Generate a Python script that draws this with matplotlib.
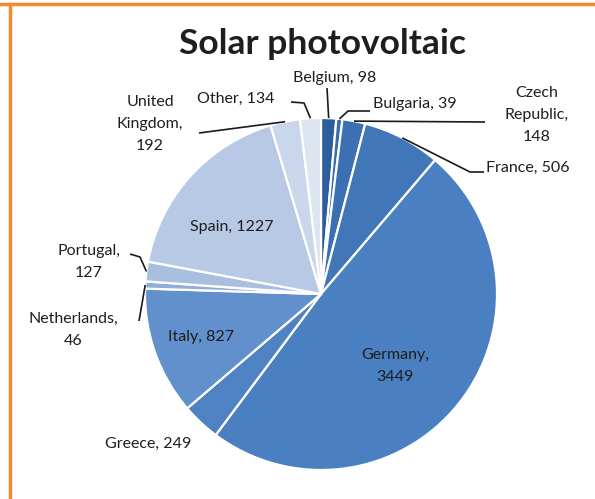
import numpy as np
import matplotlib
matplotlib.use("Agg")
import matplotlib.pyplot as plt
from matplotlib.lines import Line2D

# installed capacity by country (MW)
countries = ["Belgium", "Bulgaria", "Czech\nRepublic", "France", "Germany", "Greece",
             "Italy", "Netherlands", "Portugal", "Spain", "United\nKingdom", "Other"]
values = [98, 39, 148, 506, 3449, 249, 827, 46, 127, 1227, 192, 134]
colors = ["#2c5e9c", "#386cad", "#3c70b3", "#4176b9", "#4a7fc2", "#4e82c3",
          "#6290cc", "#92aed8", "#a9bfe0", "#b8c9e5", "#c9d6eb", "#dde5f1"]

W, H = 595, 499
CX, CY, R = 321, 294, 176


def px(x, y):
    # pixel position -> data coords (pie radius = 1)
    return (x - CX) / R, (CY - y) / R


fig = plt.figure(figsize=(W / 100, H / 100), dpi=100)
ax = fig.add_axes([0, 0, 1, 1])

wedges, _ = ax.pie(values, colors=colors, startangle=90, counterclock=False, radius=1,
                   wedgeprops=dict(edgecolor="white", linewidth=1.6))

ax.set_xlim(-CX / R, (W - CX) / R)
ax.set_ylim((CY - H) / R, CY / R)
ax.set_aspect("equal")
ax.axis("off")

font = "Lato"
tc = "#1e1e1e"
ax.text(*px(322, 44), "Solar photovoltaic", ha="center", va="center",
        fontsize=25.5, fontweight="bold", family=font, color=tc)

total = sum(values)
cum = np.cumsum([0] + values)


def edge(i):
    ang = np.deg2rad(90 - (cum[i] + values[i] / 2) / total * 360)
    return np.cos(ang), np.sin(ang)


# label text positions (pixels) and leader elbows
labels = {
    0: dict(pos=(335, 78), ha="center", path=[(327, 88)]),
    1: dict(pos=(373, 104), ha="left", path=[(348, 111), (370, 111)]),
    2: dict(pos=(537, 115), ha="center", path=[(485, 122)]),
    3: dict(pos=(486, 168), ha="left", path=[(470, 172), (484, 172)]),
    4: dict(pos=(395, 366), ha="center", path=None),
    5: dict(pos=(148, 444), ha="center", path=None),
    6: dict(pos=(201, 337), ha="center", path=None),
    7: dict(pos=(73, 330), ha="center", path=[(139, 321)]),
    8: dict(pos=(89, 262), ha="center", path=[(140, 257), (130, 254)]),
    9: dict(pos=(232, 227), ha="center", path=None),
    10: dict(pos=(150, 124), ha="center", path=[(199, 133)]),
    11: dict(pos=(236, 99), ha="center", path=[(304, 103), (291, 102)]),
}

for i, spec in labels.items():
    name = countries[i]
    txt = f"{name}, {values[i]}"
    if i in (4, 7, 8) or "\n" in name:
        txt = f"{name},\n{values[i]}"
    ax.text(*px(*spec["pos"]), txt, ha=spec["ha"], va="center", fontsize=11.5,
            family=font, color=tc, linespacing=1.7, multialignment="center")
    if spec["path"]:
        ex, ey = edge(i)
        pts = [(ex, ey)] + [px(*p) for p in spec["path"]]
        xs, ys = zip(*pts)
        ax.plot(xs, ys, color="#1a1a1a", lw=1.2, solid_capstyle="butt")

# orange frame along top and left
fig.add_artist(Line2D([0, 1], [1 - 4 / H, 1 - 4 / H], color="#f08a2c", lw=2.5,
                      transform=fig.transFigure))
fig.add_artist(Line2D([10 / W, 10 / W], [0, 1 - 4 / H], color="#f08a2c", lw=2.5,
                      transform=fig.transFigure))

fig.savefig("out.png", dpi=100, facecolor="white")
